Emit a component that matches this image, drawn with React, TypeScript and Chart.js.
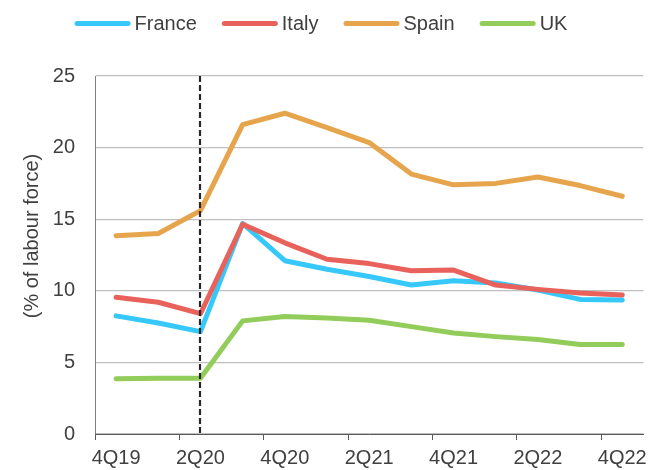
import React, { useEffect, useRef } from "react";
import { Chart, registerables } from "chart.js";

Chart.register(...registerables);

// ---- data ----
const quarters = ["4Q19", "1Q20", "2Q20", "3Q20", "4Q20", "1Q21", "2Q21", "3Q21", "4Q21", "1Q22", "2Q22", "3Q22", "4Q22"];
const france = [8.25, 7.75, 7.15, 14.7, 12.1, 11.5, 11.0, 10.4, 10.7, 10.55, 10.05, 9.4, 9.35];
const italy = [9.55, 9.2, 8.4, 14.65, 13.35, 12.2, 11.9, 11.4, 11.45, 10.4, 10.1, 9.85, 9.7];
const spain = [13.85, 14.0, 15.6, 21.6, 22.4, 21.4, 20.35, 18.15, 17.4, 17.5, 17.95, 17.35, 16.6];
const uk = [3.85, 3.9, 3.9, 7.9, 8.2, 8.1, 7.95, 7.5, 7.05, 6.8, 6.6, 6.25, 6.25];
const seriesNames = ["France", "Italy", "Spain", "UK"];
const seriesColors = ["#36C8FA", "#E8625B", "#E6A54D", "#92CC5A"];
const yMin = 0;
const yMax = 25;
const yStep = 5;
const markerQuarter = "2Q20";
const yAxisTitle = "(% of labour force)";

const FONT = '"Liberation Sans", Arial, sans-serif';
const FONT_SIZE = 20;
const TEXT_COLOR = "#404040";

const legendPlugin = {
  id: "customLegend",
  afterDraw(chart: any) {
    const ctx = chart.ctx;
    ctx.save();
    ctx.font = `${FONT_SIZE}px ${FONT}`;
    const lineLen = 56;
    const gap = 4;
    const spacing = 25;
    const items = chart.data.datasets.map((d: any) => ({
      label: d.label,
      color: d.borderColor,
      w: ctx.measureText(d.label).width,
    }));
    const total =
      items.reduce((s: number, it: any) => s + lineLen + gap + it.w, 0) + spacing * (items.length - 1);
    let x = 321 - total / 2;
    const y = 23.5;
    for (const it of items) {
      ctx.strokeStyle = it.color;
      ctx.lineWidth = 5;
      ctx.lineCap = "round";
      ctx.beginPath();
      ctx.moveTo(x + 2.5, y);
      ctx.lineTo(x + lineLen - 2.5, y);
      ctx.stroke();
      ctx.fillStyle = TEXT_COLOR;
      ctx.textAlign = "left";
      ctx.textBaseline = "middle";
      ctx.fillText(it.label, x + lineLen + gap, y + 1);
      x += lineLen + gap + it.w + spacing;
    }
    ctx.restore();
  },
};

const axisTitlePlugin = {
  id: "yTitle",
  afterDraw(chart: any) {
    const ctx = chart.ctx;
    ctx.save();
    ctx.translate(32, 236);
    ctx.rotate(-Math.PI / 2);
    ctx.font = `${FONT_SIZE}px ${FONT}`;
    ctx.fillStyle = TEXT_COLOR;
    ctx.textAlign = "center";
    ctx.textBaseline = "middle";
    ctx.fillText(yAxisTitle, 0, 0);
    ctx.restore();
  },
};

const markerPlugin = {
  id: "marker",
  afterDatasetsDraw(chart: any) {
    const ctx = chart.ctx;
    const xs = chart.scales.x;
    const idx = quarters.indexOf(markerQuarter);
    const x = Math.round(xs.getPixelForValue(idx));
    const { top, bottom } = chart.chartArea;
    ctx.save();
    ctx.strokeStyle = "#262626";
    ctx.lineWidth = 2.2;
    ctx.setLineDash([6, 3]);
    ctx.beginPath();
    ctx.moveTo(x, top);
    ctx.lineTo(x, bottom);
    ctx.stroke();
    ctx.restore();
  },
};

export default function App() {
  const canvasRef = useRef<HTMLCanvasElement | null>(null);

  useEffect(() => {
    if (!canvasRef.current) return;
    const seriesData = [france, italy, spain, uk];
    const chart = new Chart(canvasRef.current, {
      type: "line",
      data: {
        labels: quarters,
        datasets: seriesNames.map((name, i) => ({
          label: name,
          data: seriesData[i],
          borderColor: seriesColors[i],
          backgroundColor: seriesColors[i],
          borderWidth: 5,
          pointRadius: 0,
          pointHoverRadius: 0,
          tension: 0,
          borderCapStyle: "round",
          borderJoinStyle: "round",
          fill: false,
          order: seriesNames.length - i,
        })),
      },
      options: {
        animation: false,
        responsive: true,
        maintainAspectRatio: false,
        layout: { padding: { top: 76, right: 7, left: 0, bottom: 0 } },
        plugins: {
          legend: { display: false },
          tooltip: { enabled: false },
        },
        scales: {
          x: {
            type: "category",
            offset: true,
            afterFit(scale: any) {
              scale.height = 36;
            },
            grid: {
              offset: true,
              drawOnChartArea: false,
              drawTicks: true,
              tickLength: 6,
              tickWidth: 1,
              tickColor: (c: any) => (c.index % 2 === 0 ? "#595959" : "rgba(0,0,0,0)"),
            },
            border: { display: true, color: "#595959", width: 1 },
            ticks: {
              autoSkip: false,
              maxRotation: 0,
              minRotation: 0,
              padding: 6,
              color: TEXT_COLOR,
              font: { family: FONT, size: FONT_SIZE },
              callback: (_v: any, i: number) => (i % 2 === 0 ? quarters[i] : ""),
            },
          },
          y: {
            min: yMin,
            max: yMax,
            afterFit(scale: any) {
              scale.width = 95;
            },
            grid: {
              color: "#BFBFBF",
              lineWidth: 1.3,
              drawTicks: false,
            },
            border: { display: true, color: "#808080", width: 1 },
            ticks: {
              stepSize: yStep,
              padding: 20,
              color: TEXT_COLOR,
              font: { family: FONT, size: FONT_SIZE },
            },
          },
        },
      },
      plugins: [legendPlugin, axisTitlePlugin, markerPlugin],
    });
    return () => chart.destroy();
  }, []);

  return (
    <div style={{ position: "absolute", left: 0, top: 0, width: 653, height: 470, background: "#fff" }}>
      <canvas ref={canvasRef} />
    </div>
  );
}
